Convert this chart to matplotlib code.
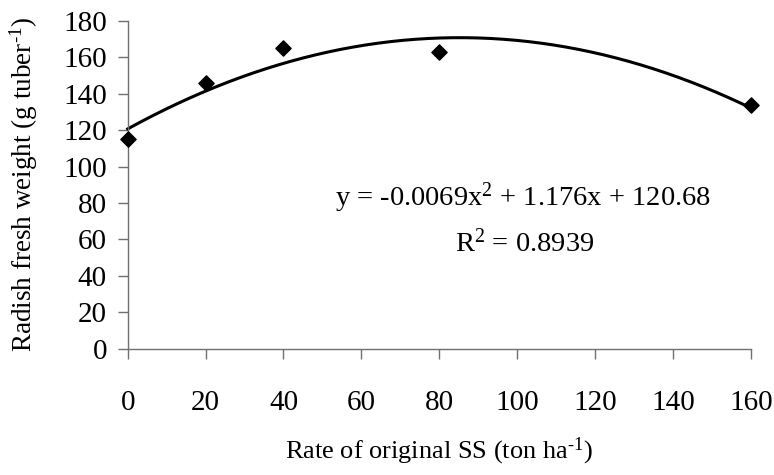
import numpy as np
import matplotlib.pyplot as plt

plt.rcParams['font.family'] = ['Liberation Serif', 'DejaVu Serif']
plt.rcParams['mathtext.fontset'] = 'custom'
plt.rcParams['mathtext.rm'] = 'Liberation Serif'
plt.rcParams['mathtext.it'] = 'Liberation Serif:italic'

# observed points
rate = [0, 20, 40, 80, 160]
weight = [115, 146, 165, 163, 134]

# quadratic trendline coefficients (from the equation on the chart)
coefs = [-0.0069, 1.176, 120.68]
r2 = 0.8939

xticks = [0, 20, 40, 60, 80, 100, 120, 140, 160]
yticks = [0, 20, 40, 60, 80, 100, 120, 140, 160, 180]

fig = plt.figure(figsize=(7.74, 4.75), dpi=100)
ax = fig.add_axes([0.165, 0.266, 0.805, 0.69])

x_line = np.linspace(0, 160, 200)
y_line = np.polyval(coefs, x_line)
ax.plot(x_line, y_line, color='black', linewidth=2.2, clip_on=False)

ax.scatter(rate, weight, marker='D', s=60, color='black', zorder=3,
           clip_on=False)

ax.set_xlim(0, 160)
ax.set_ylim(0, 180)
ax.set_xticks(xticks)
ax.set_yticks(yticks)

for side in ['top', 'right']:
    ax.spines[side].set_visible(False)
for side in ['left', 'bottom']:
    ax.spines[side].set_color('#707070')
    ax.spines[side].set_linewidth(1.0)

ax.tick_params(axis='x', direction='out', length=7, width=1, color='#707070',
               labelsize=21, pad=23)
ax.tick_params(axis='y', direction='out', length=7, width=1, color='#707070',
               labelsize=21, pad=8)

ax.set_xlabel(r'Rate of original SS (ton ha$^{\text{-1}}$)', fontsize=19,
              labelpad=14)
ax.set_ylabel(r'Radish fresh weight (g tuber$^{\text{-1}}$)', fontsize=19.5)
ax.yaxis.set_label_coords(-0.14, 0.5)

ax.text(101.5, 83, r'y = -0.0069x$^{2}$ + 1.176x + 120.68', fontsize=20.5,
        ha='center', va='center')
ax.text(102, 58, 'R$^{2}$ = %.4f' % r2, fontsize=20.5, ha='center',
        va='center')

fig.savefig('out.png', dpi=100)
